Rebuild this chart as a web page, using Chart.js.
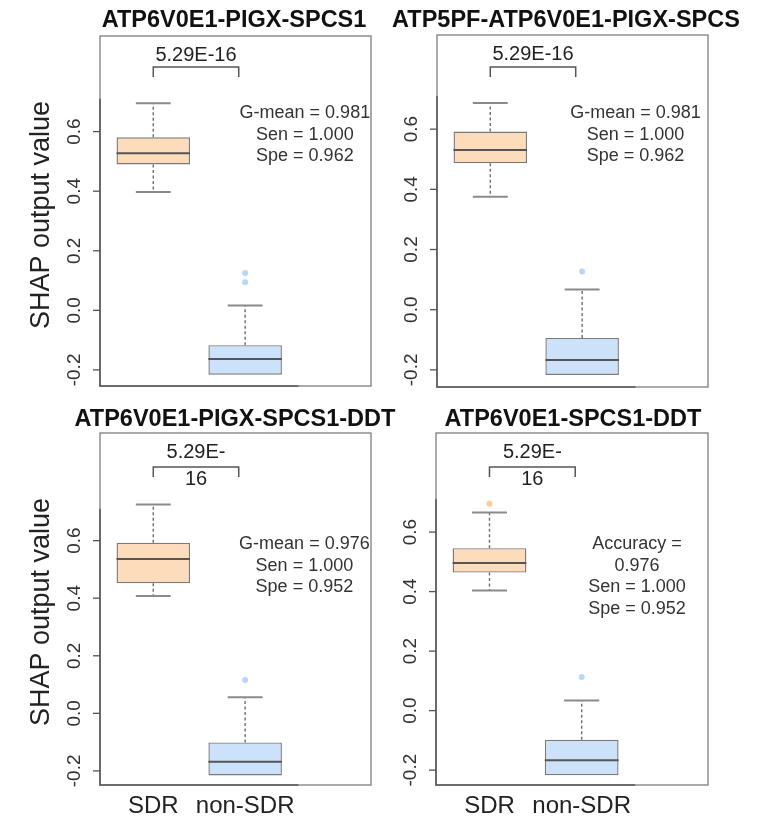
<!DOCTYPE html>
<html>
<head>
<meta charset="utf-8">
<script src="https://cdn.jsdelivr.net/npm/chart.js@4.4.1/dist/chart.umd.min.js"></script>
<style>
  html, body { margin: 0; padding: 0; background: #ffffff; }
  #wrap { position: relative; width: 758px; height: 819px; overflow: hidden; }
  #wrap canvas { position: absolute; left: 0; top: 0; }
</style>
</head>
<body>
<div id="wrap">
  <canvas id="panel0" width="758" height="819"></canvas>
  <canvas id="panel1" width="758" height="819"></canvas>
  <canvas id="panel2" width="758" height="819"></canvas>
  <canvas id="panel3" width="758" height="819"></canvas>
</div>
<script>
// ---- data ----
const groups = ['SDR', 'non-SDR'];
const panelTitles = [
  'ATP6V0E1-PIGX-SPCS1',
  'ATP5PF-ATP6V0E1-PIGX-SPCS',
  'ATP6V0E1-PIGX-SPCS1-DDT',
  'ATP6V0E1-SPCS1-DDT'
];
// box-plot summaries, one [SDR, non-SDR] pair per panel
const lowerWhisker  = [[0.397, -0.216], [0.375, -0.217], [0.408, -0.216], [0.404, -0.217]];
const firstQuartile = [[0.490, -0.216], [0.487, -0.217], [0.452, -0.216], [0.464, -0.217]];
const medians       = [[0.527, -0.163], [0.531, -0.167], [0.536, -0.168], [0.496, -0.167]];
const thirdQuartile = [[0.581, -0.117], [0.592, -0.094], [0.593, -0.101], [0.546, -0.098]];
const upperWhisker  = [[0.695,  0.016], [0.687,  0.067], [0.726,  0.056], [0.666,  0.034]];
const outliers      = [[[], [0.125, 0.094]], [[], [0.127]], [[], [0.116]], [[0.695], [0.113]]];
const pValueLines = [['5.29E-16'], ['5.29E-16'], ['5.29E-', '16'], ['5.29E-', '16']];
const statLines = [
  ['G-mean = 0.981', 'Sen = 1.000', 'Spe = 0.962'],
  ['G-mean = 0.981', 'Sen = 1.000', 'Spe = 0.962'],
  ['G-mean = 0.976', 'Sen = 1.000', 'Spe = 0.952'],
  ['Accuracy =', '0.976', 'Sen = 1.000', 'Spe = 0.952']
];
const yTicks = [-0.2, 0, 0.2, 0.4, 0.6];
const yTickLabels = ['-0.2', '0.0', '0.2', '0.4', '0.6'];
const yAxisTitle = 'SHAP output value';

// ---- layout of the 2x2 grid ----
const FONT = "'Liberation Sans', Arial, Helvetica, sans-serif";
const panels = [
  { area: [100, 36, 371, 386], yRange: [-0.254, 0.921], titleX: 234, titleY: 27, yTitle: true,  xLabels: false, bracketTop: 31, statX: 2.65, statTop: 77 },
  { area: [437, 35, 708, 387], yRange: [-0.257, 0.913], titleX: 566, titleY: 27, yTitle: false, xLabels: false, bracketTop: 32, statX: 2.58, statTop: 78 },
  { area: [100, 433, 371, 785], yRange: [-0.249, 0.974], titleX: 235, titleY: 426, yTitle: true,  xLabels: true,  bracketTop: 34, statX: 2.645, statTop: 111 },
  { area: [436, 433, 708, 785], yRange: [-0.250, 0.933], titleX: 573, titleY: 426, yTitle: false, xLabels: true,  bracketTop: 34, statX: 2.60, statTop: 111 }
];
const boxFill = ['#FDDCBB', '#CCE2FB'];
const pointFill = ['#FFC99C', '#B9D5F7'];
const CAP_HALF = 0.19;
const MED_HALF = 0.4;
const AXIS_LINE_TOP = 0.71;   // upper end of the darker y axis line
const AXIS_LINE_RIGHT = 2.58; // right end of the darker x axis line

// axes, frame and all annotation text of one panel
const decorations = {
  id: 'panelDecor',
  afterDraw(chart, args, opts) {
    const p = panels[opts.index];
    const { ctx, chartArea: a } = chart;
    const xs = chart.scales.x, ys = chart.scales.y;
    ctx.save();
    // frame
    ctx.strokeStyle = '#8e8e8e';
    ctx.lineWidth = 1.5;
    ctx.strokeRect(a.left, a.top, a.right - a.left, a.bottom - a.top);
    // darker axis lines along the left and bottom edges
    ctx.strokeStyle = '#5a5a5a';
    ctx.lineWidth = 1.6;
    ctx.beginPath();
    ctx.moveTo(a.left, ys.getPixelForValue(AXIS_LINE_TOP));
    ctx.lineTo(a.left, a.bottom);
    ctx.lineTo(xs.getPixelForValue(AXIS_LINE_RIGHT), a.bottom);
    ctx.stroke();
    // y ticks and rotated labels
    ctx.strokeStyle = '#555';
    ctx.lineWidth = 1.3;
    ctx.fillStyle = '#333';
    ctx.font = '19px ' + FONT;
    ctx.textAlign = 'center';
    ctx.textBaseline = 'middle';
    yTicks.forEach((v, i) => {
      const y = ys.getPixelForValue(v);
      ctx.beginPath();
      ctx.moveTo(a.left - 7, y);
      ctx.lineTo(a.left, y);
      ctx.stroke();
      ctx.save();
      ctx.translate(a.left - 25, y);
      ctx.rotate(-Math.PI / 2);
      ctx.fillText(yTickLabels[i], 0, 0);
      ctx.restore();
    });
    // y axis title
    if (p.yTitle) {
      ctx.save();
      ctx.fillStyle = '#222';
      ctx.font = '27px ' + FONT;
      ctx.translate(42, a.top + 179);
      ctx.rotate(-Math.PI / 2);
      ctx.fillText(yAxisTitle, 0, 0);
      ctx.restore();
    }
    // group labels
    if (p.xLabels) {
      ctx.fillStyle = '#222';
      ctx.font = '24px ' + FONT;
      ctx.textBaseline = 'alphabetic';
      groups.forEach((g, i) => {
        ctx.fillText(g, xs.getPixelForValue(i + 1), a.bottom + 28);
      });
    }
    // panel title
    ctx.fillStyle = '#111';
    ctx.font = 'bold 23.5px ' + FONT;
    ctx.textBaseline = 'alphabetic';
    ctx.fillText(panelTitles[opts.index], p.titleX, p.titleY);
    // significance bracket and p-value
    const bx1 = xs.getPixelForValue(1), bx2 = xs.getPixelForValue(1.93);
    const by = a.top + p.bracketTop;
    ctx.strokeStyle = '#555';
    ctx.lineWidth = 1.5;
    ctx.beginPath();
    ctx.moveTo(bx1, by + 10);
    ctx.lineTo(bx1, by);
    ctx.lineTo(bx2, by);
    ctx.lineTo(bx2, by + 10);
    ctx.stroke();
    ctx.fillStyle = '#222';
    ctx.font = '20px ' + FONT;
    ctx.textBaseline = 'middle';
    pValueLines[opts.index].forEach((t, k) => {
      ctx.fillText(t, (bx1 + bx2) / 2, a.top + 19.5 + k * 27);
    });
    // model metrics
    ctx.fillStyle = '#333';
    ctx.font = '18px ' + FONT;
    const sx = xs.getPixelForValue(p.statX);
    statLines[opts.index].forEach((t, k) => {
      ctx.fillText(t, sx, a.top + p.statTop + k * 21.6);
    });
    ctx.restore();
  }
};

function buildPanel(idx) {
  const p = panels[idx];
  const q1 = firstQuartile[idx], q3 = thirdQuartile[idx], md = medians[idx];
  const lo = lowerWhisker[idx], hi = upperWhisker[idx];
  const gap = (x) => ({ x: x, y: null });

  const boxes = groups.map((g, i) => ({ x: i + 1, y: [q1[i], q3[i]] }));
  const whiskers = [], caps = [], medLines = [];
  groups.forEach((g, i) => {
    const x = i + 1;
    whiskers.push({ x, y: q3[i] }, { x, y: hi[i] }, gap(x));
    caps.push({ x: x - CAP_HALF, y: hi[i] }, { x: x + CAP_HALF, y: hi[i] }, gap(x));
    // a lower whisker only exists when it reaches below the box
    if (lo[i] < q1[i]) {
      whiskers.push({ x, y: q1[i] }, { x, y: lo[i] }, gap(x));
      caps.push({ x: x - CAP_HALF, y: lo[i] }, { x: x + CAP_HALF, y: lo[i] }, gap(x));
    }
    medLines.push({ x: x - MED_HALF, y: md[i] }, { x: x + MED_HALF, y: md[i] }, gap(x));
  });
  const pts = [], ptColors = [];
  outliers[idx].forEach((vals, i) => {
    vals.forEach(v => { pts.push({ x: i + 1, y: v }); ptColors.push(pointFill[i]); });
  });

  const [l, t, r, b] = p.area;
  return new Chart(document.getElementById('panel' + idx), {
    type: 'bar',
    data: {
      datasets: [
        {
          type: 'scatter', data: pts, order: 0,
          pointRadius: 3, pointBackgroundColor: ptColors, pointBorderWidth: 0, showLine: false
        },
        {
          type: 'line', data: medLines, order: 1,
          borderColor: '#555555', borderWidth: 2, pointRadius: 0, spanGaps: false, tension: 0
        },
        {
          type: 'line', data: caps, order: 3,
          borderColor: '#8a8a8a', borderWidth: 2, pointRadius: 0, spanGaps: false, tension: 0
        },
        {
          type: 'line', data: whiskers, order: 4,
          borderColor: '#6e6e6e', borderWidth: 1.4, borderDash: [3, 2.5], pointRadius: 0, spanGaps: false, tension: 0
        },
        {
          type: 'bar', data: boxes, order: 5,
          backgroundColor: boxFill, borderColor: '#7a7a7a', borderWidth: 1.4, borderSkipped: false,
          barPercentage: 1, categoryPercentage: 0.8, grouped: false
        }
      ]
    },
    options: {
      responsive: false,
      animation: false,
      events: [],
      layout: { padding: { left: l, top: t, right: 758 - r, bottom: 819 - b } },
      plugins: {
        legend: { display: false },
        tooltip: { enabled: false },
        title: { display: false },
        panelDecor: { index: idx }
      },
      scales: {
        x: {
          type: 'linear', display: false, offset: false, min: 0.42, max: 3.37,
          afterBuildTicks: (s) => { s.ticks = groups.map((g, i) => ({ value: i + 1 })); }
        },
        y: {
          type: 'linear', display: false, min: p.yRange[0], max: p.yRange[1],
          afterBuildTicks: (s) => { s.ticks = yTicks.map(v => ({ value: v })); }
        }
      }
    },
    plugins: [decorations]
  });
}

[0, 1, 2, 3].forEach(buildPanel);
</script>
</body>
</html>
